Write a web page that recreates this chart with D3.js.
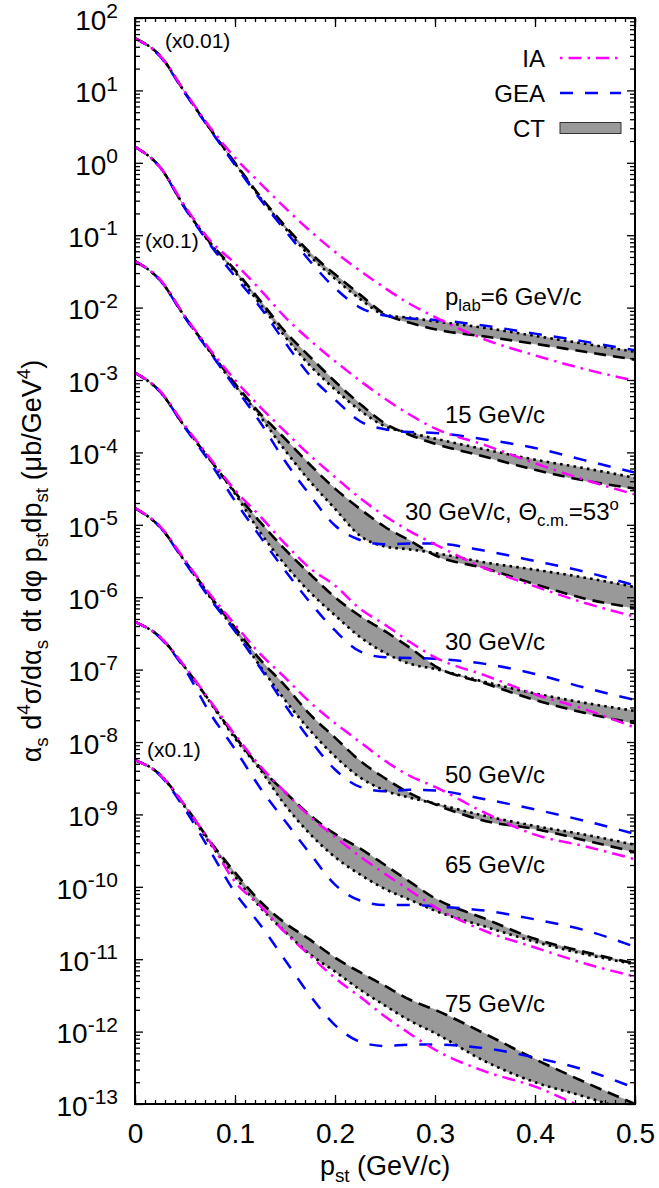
<!DOCTYPE html>
<html lang="en">
<head>
<meta charset="utf-8">
<title>p_st distributions: IA, GEA and CT</title>
<style>
  body { margin: 0; background: #fff; }
  svg text { font-family: "Liberation Sans", Arial, Helvetica, sans-serif; white-space: pre; }
</style>
</head>
<body>
<svg id="chart" width="659" height="1188"></svg>
<script src="https://d3js.org/d3.v7.min.js"></script>
<script>
// p_st grid (GeV/c)
const pst = [0, 0.025, 0.05, 0.075, 0.1, 0.125, 0.15, 0.175, 0.2, 0.225, 0.25, 0.275, 0.3, 0.35, 0.4, 0.45, 0.5];

// p_lab = 6 GeV/c (x0.01)
const ia6      = [5.25e1, 3.02e1, 9.55, 3.09, 1.18, 5.25e-1, 2.40e-1, 1.15e-1, 5.89e-2, 3.24e-2, 1.86e-2, 1.12e-2, 7.41e-3, 3.63e-3, 2.19e-3, 1.41e-3, 9.77e-4];
const gea6     = [5.25e1, 2.95e1, 9.12, 2.88, 9.33e-1, 3.16e-1, 1.17e-1, 4.37e-2, 1.86e-2, 1.00e-2, 7.76e-3, 7.08e-3, 6.76e-3, 5.62e-3, 4.37e-3, 3.39e-3, 2.57e-3];
const ctDash6  = [5.25e1, 3.02e1, 9.33, 2.95, 1.00, 3.47e-1, 1.35e-1, 5.75e-2, 2.88e-2, 1.51e-2, 8.13e-3, 6.17e-3, 5.01e-3, 3.98e-3, 3.16e-3, 2.45e-3, 1.91e-3];
const ctDot6   = [5.25e1, 3.02e1, 9.33, 2.95, 9.77e-1, 3.31e-1, 1.26e-1, 5.13e-2, 2.51e-2, 1.32e-2, 7.94e-3, 7.24e-3, 6.46e-3, 5.25e-3, 4.07e-3, 3.16e-3, 2.45e-3];

// 15 GeV/c
const ia15     = [1.66, 8.71e-1, 2.51e-1, 8.51e-2, 4.07e-2, 1.78e-2, 7.41e-3, 3.55e-3, 1.82e-3, 9.77e-4, 5.50e-4, 3.31e-4, 2.14e-4, 1.26e-4, 7.08e-5, 4.17e-5, 2.63e-5];
const gea15    = [1.66, 8.71e-1, 2.34e-1, 7.41e-2, 2.69e-2, 1.02e-2, 3.31e-3, 1.15e-3, 5.37e-4, 2.69e-4, 2.09e-4, 1.91e-4, 1.86e-4, 1.51e-4, 1.15e-4, 7.76e-5, 5.25e-5];
const ctDash15 = [1.66, 8.71e-1, 2.40e-1, 7.94e-2, 3.31e-2, 1.26e-2, 4.68e-3, 2.09e-3, 9.55e-4, 4.68e-4, 2.51e-4, 1.74e-4, 1.32e-4, 8.71e-5, 5.75e-5, 4.07e-5, 3.16e-5];
const ctDot15  = [1.66, 8.71e-1, 2.40e-1, 7.76e-2, 3.09e-2, 1.12e-2, 3.98e-3, 1.58e-3, 7.41e-4, 3.80e-4, 2.29e-4, 1.86e-4, 1.55e-4, 1.10e-4, 7.94e-5, 6.03e-5, 4.47e-5];

// 30 GeV/c, theta_cm = 53 deg (x0.1)
const ia30t     = [4.37e-2, 2.45e-2, 7.59e-3, 2.63e-3, 1.00e-3, 4.27e-4, 1.95e-4, 9.12e-5, 4.57e-5, 2.34e-5, 1.32e-5, 8.13e-6, 5.37e-6, 2.51e-6, 1.41e-6, 8.32e-7, 5.37e-7];
const gea30t    = [4.37e-2, 2.40e-2, 7.24e-3, 2.40e-3, 7.94e-4, 2.63e-4, 7.59e-5, 2.57e-5, 9.77e-6, 6.17e-6, 5.37e-6, 5.50e-6, 5.50e-6, 4.37e-6, 3.16e-6, 2.24e-6, 1.45e-6];
const ctDash30t = [4.37e-2, 2.40e-2, 7.41e-3, 2.51e-3, 8.91e-4, 3.47e-4, 1.55e-4, 6.76e-5, 3.16e-5, 1.66e-5, 9.33e-6, 6.03e-6, 3.80e-6, 2.51e-6, 1.51e-6, 9.55e-7, 7.08e-7];
const ctDot30t  = [4.37e-2, 2.40e-2, 7.41e-3, 2.45e-3, 8.32e-4, 3.16e-4, 1.07e-4, 3.98e-5, 1.66e-5, 7.08e-6, 5.01e-6, 4.57e-6, 4.07e-6, 3.02e-6, 2.40e-6, 1.86e-6, 1.38e-6];

// 30 GeV/c
const ia30     = [1.26e-3, 7.08e-4, 2.34e-4, 8.32e-5, 3.02e-5, 1.32e-5, 5.50e-6, 2.51e-6, 1.45e-6, 6.92e-7, 4.17e-7, 2.40e-7, 1.48e-7, 8.32e-8, 4.57e-8, 2.82e-8, 1.58e-8];
const gea30    = [1.26e-3, 6.92e-4, 2.19e-4, 7.24e-5, 2.14e-5, 6.92e-6, 2.34e-6, 8.51e-7, 3.47e-7, 1.78e-7, 1.48e-7, 1.45e-7, 1.41e-7, 1.20e-7, 8.71e-8, 5.62e-8, 3.80e-8];
const ctDash30 = [1.26e-3, 6.92e-4, 2.24e-4, 7.94e-5, 2.82e-5, 1.10e-5, 4.57e-6, 2.09e-6, 1.00e-6, 5.50e-7, 3.39e-7, 2.00e-7, 1.12e-7, 6.46e-8, 3.80e-8, 2.51e-8, 1.82e-8];
const ctDot30  = [1.26e-3, 6.92e-4, 2.24e-4, 7.94e-5, 2.69e-5, 7.94e-6, 2.82e-6, 1.17e-6, 5.62e-7, 2.82e-7, 1.70e-7, 1.20e-7, 1.02e-7, 6.76e-8, 4.68e-8, 3.47e-8, 2.69e-8];

// 50 GeV/c
const ia50     = [1.70e-5, 9.55e-6, 3.24e-6, 1.10e-6, 4.17e-7, 1.66e-7, 7.76e-8, 3.55e-8, 1.82e-8, 1.00e-8, 5.50e-9, 3.39e-9, 2.40e-9, 1.05e-9, 5.25e-10, 3.63e-10, 2.40e-10];
const gea50    = [1.70e-5, 9.33e-6, 3.02e-6, 9.55e-7, 3.39e-7, 1.07e-7, 3.24e-8, 1.07e-8, 4.17e-9, 2.40e-9, 2.09e-9, 2.19e-9, 2.14e-9, 1.62e-9, 1.17e-9, 8.13e-10, 5.37e-10];
const ctDash50 = [1.70e-5, 9.33e-6, 3.16e-6, 1.05e-6, 3.80e-7, 1.38e-7, 6.03e-8, 2.40e-8, 1.15e-8, 5.50e-9, 3.16e-9, 1.95e-9, 1.38e-9, 8.13e-10, 6.31e-10, 4.37e-10, 3.02e-10];
const ctDot50  = [1.70e-5, 9.33e-6, 3.09e-6, 1.00e-6, 3.47e-7, 1.12e-7, 3.80e-8, 1.45e-8, 6.31e-9, 3.24e-9, 2.14e-9, 1.70e-9, 1.41e-9, 9.55e-10, 6.92e-10, 5.25e-10, 3.80e-10];

// 65 GeV/c
const ia65     = [4.57e-7, 2.82e-7, 1.10e-7, 3.72e-8, 1.26e-8, 4.68e-9, 2.04e-9, 9.33e-10, 4.90e-10, 2.63e-10, 1.51e-10, 8.91e-11, 5.25e-11, 2.45e-11, 1.45e-11, 8.71e-12, 5.75e-12];
const gea65    = [4.57e-7, 2.75e-7, 1.00e-7, 2.51e-8, 7.94e-9, 2.34e-9, 8.13e-10, 2.88e-10, 1.07e-10, 6.46e-11, 5.62e-11, 5.62e-11, 5.37e-11, 4.68e-11, 3.55e-11, 2.51e-11, 1.48e-11];
const ctDash65 = [4.57e-7, 2.82e-7, 1.07e-7, 3.63e-8, 1.20e-8, 4.47e-9, 2.04e-9, 9.77e-10, 5.37e-10, 3.39e-10, 2.00e-10, 1.17e-10, 6.92e-11, 3.63e-11, 1.91e-11, 1.26e-11, 8.71e-12];
const ctDot65  = [4.57e-7, 2.82e-7, 1.07e-7, 3.55e-8, 1.12e-8, 4.17e-9, 1.35e-9, 5.37e-10, 2.57e-10, 1.48e-10, 9.33e-11, 6.61e-11, 4.68e-11, 2.82e-11, 1.74e-11, 1.17e-11, 8.51e-12];

// 75 GeV/c (x0.1)
const ia75     = [5.62e-9, 3.55e-9, 1.32e-9, 4.17e-10, 1.17e-10, 5.50e-11, 2.34e-11, 1.12e-11, 5.50e-12, 3.02e-12, 1.62e-12, 9.33e-13, 5.62e-13, 2.82e-13, 1.74e-13, 8.71e-14, 4.47e-14];
const gea75    = [5.62e-9, 3.47e-9, 1.17e-9, 3.16e-10, 8.32e-11, 3.02e-11, 9.77e-12, 3.16e-12, 1.23e-12, 7.24e-13, 6.31e-13, 6.61e-13, 6.61e-13, 5.89e-13, 4.37e-13, 2.95e-13, 1.66e-13];
const ctDash75 = [5.62e-9, 3.55e-9, 1.32e-9, 4.27e-10, 1.58e-10, 6.31e-11, 3.16e-11, 1.86e-11, 1.05e-11, 6.61e-12, 4.27e-12, 2.75e-12, 2.00e-12, 9.33e-13, 4.17e-13, 2.00e-13, 1.00e-13];
const ctDot75  = [5.62e-9, 3.55e-9, 1.26e-9, 3.98e-10, 1.38e-10, 5.25e-11, 2.40e-11, 1.17e-11, 6.76e-12, 3.80e-12, 2.29e-12, 1.41e-12, 9.55e-13, 3.89e-13, 2.00e-13, 1.26e-13, 7.59e-14];

const legendLabels = ["IA", "GEA", "CT"];

// labels next to each set: [text, 0 normal | 1 sub | 2 sup]
const setLabels = [
  [["p", 0], ["lab", 1], ["=6 GeV/c", 0]],
  [["15 GeV/c", 0]],
  [["30 GeV/c, Θ", 0], ["c.m.", 1], ["=53", 0], ["o", 2]],
  [["30 GeV/c", 0]],
  [["50 GeV/c", 0]],
  [["65 GeV/c", 0]],
  [["75 GeV/c", 0]]
];
const setLabelAt = [[0.31, 1.09e-2], [0.31, 2.55e-4], [0.27, 1.16e-5], [0.31, 1.87e-7], [0.31, 2.72e-9], [0.31, 1.55e-10], [0.31, 1.87e-12]];
const scaleNotes = ["(x0.01)", "(x0.1)", "(x0.1)"];
const scaleNoteAt = [[0.03, 38.5], [0.01, 6.65e-2], [0.012, 6.2e-9]];

const sets = [
  {ia: ia6, gea: gea6, dash: ctDash6, dot: ctDot6},
  {ia: ia15, gea: gea15, dash: ctDash15, dot: ctDot15},
  {ia: ia30t, gea: gea30t, dash: ctDash30t, dot: ctDot30t},
  {ia: ia30, gea: gea30, dash: ctDash30, dot: ctDot30},
  {ia: ia50, gea: gea50, dash: ctDash50, dot: ctDot50},
  {ia: ia65, gea: gea65, dash: ctDash65, dot: ctDot65},
  {ia: ia75, gea: gea75, dash: ctDash75, dot: ctDot75}
];

const frame = {left: 135, right: 635, top: 18, bottom: 1104};
const svg = d3.select("#chart");

const x = d3.scaleLinear().domain([0, 0.5]).range([frame.left, frame.right]);
const y = d3.scaleLog().domain([1e-13, 1e2]).range([frame.bottom, frame.top]);

const IA_COLOR = "#ff00ff", GEA_COLOR = "#0000ff", BAND = "#999999";
const IA_DASH = "13,6,2.5,6", GEA_DASH = "13,12", CT_DASH = "12,7", CT_DOT = "2.6,4.2";

// text with sub/superscripts
function rich(sel, parts, size) {
  let shift = 0;
  parts.forEach(([t, m]) => {
    const target = m === 1 ? size * 0.25 : m === 2 ? -size * 0.42 : 0;
    sel.append("tspan")
      .attr("dy", target - shift)
      .attr("font-size", m ? size * 0.7 : size)
      .text(t);
    shift = target;
  });
}

svg.append("defs").append("clipPath").attr("id", "plotClip")
  .append("rect").attr("x", frame.left).attr("y", frame.top)
  .attr("width", frame.right - frame.left).attr("height", frame.bottom - frame.top);

const plot = svg.append("g").attr("clip-path", "url(#plotClip)");

const line = d3.line()
  .x((d, i) => x(pst[i]))
  .y(d => y(d))
  .curve(d3.curveMonotoneX);

sets.forEach(s => {
  const band = d3.area()
    .x(i => x(pst[i]))
    .y0(i => y(s.dot[i]))
    .y1(i => y(s.dash[i]))
    .curve(d3.curveMonotoneX);
  plot.append("path").attr("d", band(d3.range(pst.length)))
    .attr("fill", BAND).attr("stroke", BAND).attr("stroke-width", 0.8);
});

sets.forEach(s => {
  plot.append("path").attr("d", line(s.dash)).attr("fill", "none")
    .attr("stroke", "#000").attr("stroke-width", 2.6).attr("stroke-dasharray", CT_DASH);
  plot.append("path").attr("d", line(s.dot)).attr("fill", "none")
    .attr("stroke", "#000").attr("stroke-width", 2.6).attr("stroke-dasharray", CT_DOT);
  plot.append("path").attr("d", line(s.gea)).attr("fill", "none")
    .attr("stroke", GEA_COLOR).attr("stroke-width", 2.5).attr("stroke-dasharray", GEA_DASH);
  plot.append("path").attr("d", line(s.ia)).attr("fill", "none")
    .attr("stroke", IA_COLOR).attr("stroke-width", 2.5).attr("stroke-dasharray", IA_DASH);
});

// axes: ticks pointing inwards on all four sides
const xMinor = x.ticks(50);
const xMajor = x.ticks(5);
const yAll = y.ticks(20);
const isDecade = d => Math.abs(Math.log10(d) - Math.round(Math.log10(d))) < 1e-6;
const yMajor = yAll.filter(isDecade);
const yMinor = yAll.filter(d => !isDecade(d));

function tickAxis(axis, pos) {
  const g = svg.append("g").attr("transform", pos).call(axis);
  g.select(".domain").remove();
  g.selectAll("line").attr("stroke", "#000").attr("stroke-width", 1.3);
  return g;
}

tickAxis(d3.axisBottom(x).tickValues(xMinor).tickSize(-4).tickFormat(""), `translate(0,${frame.bottom})`);
tickAxis(d3.axisTop(x).tickValues(xMinor).tickSize(-4).tickFormat(""), `translate(0,${frame.top})`);
tickAxis(d3.axisTop(x).tickValues(xMajor).tickSize(-9).tickFormat(""), `translate(0,${frame.top})`);
const xAx = tickAxis(d3.axisBottom(x).tickValues(xMajor).tickSize(-9).tickPadding(19)
  .tickFormat(d => d === 0 ? "0" : d3.format(".1f")(d)), `translate(0,${frame.bottom})`);
xAx.selectAll("text").attr("font-size", 28).attr("fill", "#000")
  .attr("font-family", "Liberation Sans, Arial, sans-serif");

tickAxis(d3.axisLeft(y).tickValues(yMinor).tickSize(-5).tickFormat(""), `translate(${frame.left},0)`);
tickAxis(d3.axisRight(y).tickValues(yMinor).tickSize(-5).tickFormat(""), `translate(${frame.right},0)`);
tickAxis(d3.axisRight(y).tickValues(yMajor).tickSize(-8).tickFormat(""), `translate(${frame.right},0)`);
const yAx = tickAxis(d3.axisLeft(y).tickValues(yMajor).tickSize(-8).tickPadding(17)
  .tickFormat(""), `translate(${frame.left},0)`);
yAx.selectAll(".tick text").each(function(d) {
  const t = d3.select(this).attr("fill", "#000").attr("font-size", 28).attr("dy", "0.4em")
    .attr("font-family", "Liberation Sans, Arial, sans-serif");
  t.append("tspan").text("10");
  t.append("tspan").attr("dy", "-0.55em").attr("font-size", 21).text(String(Math.round(Math.log10(d))));
});

// frame
svg.append("rect").attr("x", frame.left).attr("y", frame.top)
  .attr("width", frame.right - frame.left).attr("height", frame.bottom - frame.top)
  .attr("fill", "none").attr("stroke", "#000").attr("stroke-width", 2);

// axis titles
rich(svg.append("text").attr("x", (frame.left + frame.right) / 2).attr("y", 1175).attr("text-anchor", "middle"),
  [["p", 0], ["st", 1], [" (GeV/c)", 0]], 27);
rich(svg.append("text").attr("transform", `translate(41,${(frame.top + frame.bottom) / 2}) rotate(-90)`).attr("text-anchor", "middle"),
  [["α", 0], ["s", 1], [" d", 0], ["4", 2], ["σ/dα", 0], ["s", 1], [" dt dφ p", 0], ["st", 1], ["dp", 0], ["st", 1],
   [" (μb/GeV", 0], ["4", 2], [")", 0]], 27);

// set labels
setLabels.forEach((parts, i) => {
  rich(svg.append("text").attr("x", x(setLabelAt[i][0])).attr("y", y(setLabelAt[i][1])), parts, 24);
});
scaleNotes.forEach((t, i) => {
  svg.append("text").attr("x", x(scaleNoteAt[i][0])).attr("y", y(scaleNoteAt[i][1]))
    .attr("font-size", 21).text(t);
});

// legend
const lg = svg.append("g");
const legendStyle = [
  {color: IA_COLOR, dash: "2.5,6,13,6"},
  {color: GEA_COLOR, dash: GEA_DASH},
  null
];
legendLabels.forEach((name, i) => {
  const cy = 58 + i * 35;
  lg.append("text").attr("x", 545).attr("y", cy + 8.5).attr("text-anchor", "end")
    .attr("font-size", 24).text(name);
  if (legendStyle[i]) {
    lg.append("line").attr("x1", 560).attr("x2", 621).attr("y1", cy).attr("y2", cy)
      .attr("stroke", legendStyle[i].color).attr("stroke-width", 2.5)
      .attr("stroke-dasharray", legendStyle[i].dash);
  } else {
    lg.append("rect").attr("x", 560).attr("y", cy - 5.5).attr("width", 61).attr("height", 11)
      .attr("fill", BAND).attr("stroke", "#333").attr("stroke-width", 1);
  }
});
</script>
</body>
</html>
